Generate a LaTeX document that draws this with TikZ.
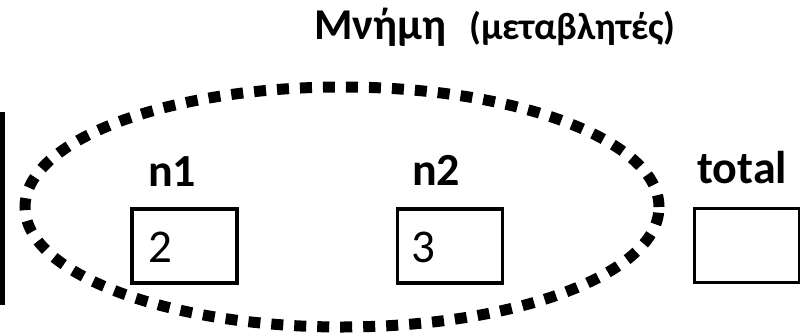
\documentclass[tikz,border=0pt]{standalone}
\usepackage{fontspec}
\setmainfont{Carlito}
\usetikzlibrary{shapes.geometric}
\begin{document}
\begin{tikzpicture}[x=1pt,y=-1pt,
	varbox/.style={draw,line width=3.5pt,minimum width=105pt,minimum height=74pt,inner sep=0pt},
	varname/.style={font=\fontsize{46}{46}\selectfont\bfseries,anchor=base west,inner sep=0pt},
	varvalue/.style={font=\fontsize{47}{47}\selectfont,anchor=base west,inner sep=0pt}]

	\useasboundingbox (0,0) rectangle (800,332);

	\node[anchor=base west,inner sep=0pt,font=\fontsize{44}{44}\selectfont\bfseries] (title) at (314,39) {Μνήμη};
	\node[anchor=base west,inner sep=0pt,font=\fontsize{38}{38}\selectfont\bfseries] (titlenote) at (469,39) {(μεταβλητές)};

	\node[ellipse,draw,line width=11pt,dash pattern=on 12pt off 11pt,
		minimum width=634pt,minimum height=240pt,inner sep=0pt] (memory) at (342,207) {};

	\draw[line width=5pt] (2.5,112) -- (2.5,305);

	\node[varbox] (n1box) at (184.5,246) {};
	\node[varbox] (n2box) at (450,246) {};
	\node[varbox] (totalbox) at (747,245.5) {};

	\node[varname] (n1) at (148,186) {n1};
	\node[varname] (n2) at (412,185) {n2};
	\node[varname] (total) at (697,183) {total};

	\node[varvalue] (n1val) at (148,262) {2};
	\node[varvalue] (n2val) at (411,262) {3};

\end{tikzpicture}
\end{document}
